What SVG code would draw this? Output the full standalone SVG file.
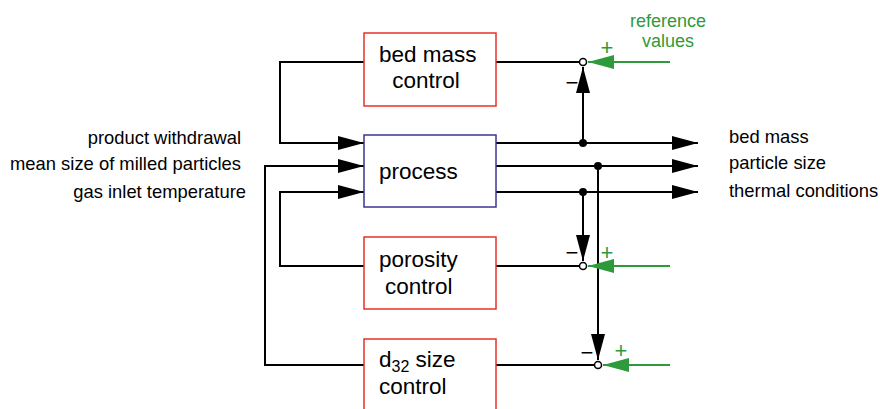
<svg xmlns="http://www.w3.org/2000/svg" width="880" height="409" viewBox="0 0 880 409">
<defs>
<marker id="ah" markerWidth="26" markerHeight="14" refX="26" refY="7" orient="auto" markerUnits="userSpaceOnUse"><path d="M0,0 L26,7 L0,14 Z" fill="#000"/></marker>
<marker id="ag" markerWidth="26" markerHeight="14" refX="26" refY="7" orient="auto" markerUnits="userSpaceOnUse"><path d="M0,0 L26,7 L0,14 Z" fill="#2e9a3c"/></marker>
</defs>
<style>
.t{font-family:"Liberation Sans",Arial,sans-serif;fill:#000}
.s{font-size:18.4px}
.b{font-size:22.5px}
.g{fill:#2e9a3c;font-family:"Liberation Sans",Arial,sans-serif}
.ln{fill:none;stroke:#000;stroke-width:2}
.gl{fill:none;stroke:#2e9a3c;stroke-width:2}
.red{fill:#fff;stroke:#e8302a;stroke-width:1.5}
.blue{fill:#fff;stroke:#3b3596;stroke-width:1.5}
.dot{fill:#000}
.sum{fill:#fff;stroke:#000;stroke-width:1.5}
</style>
<g id="connectors">
<polyline class="ln" points="364,62 280,62 280,143 364,143" marker-end="url(#ah)"/>
<polyline class="ln" points="364,266 280,266 280,192 364,192" marker-end="url(#ah)"/>
<polyline class="ln" points="364,365 265,365 265,166 364,166" marker-end="url(#ah)"/>
<line class="ln" x1="496" y1="143" x2="698" y2="143" marker-end="url(#ah)"/>
<line class="ln" x1="496" y1="166" x2="698" y2="166" marker-end="url(#ah)"/>
<line class="ln" x1="496" y1="192" x2="698" y2="192" marker-end="url(#ah)"/>
<line class="ln" x1="496" y1="62" x2="579" y2="62"/>
<line class="ln" x1="496" y1="266" x2="579" y2="266"/>
<line class="ln" x1="496" y1="365" x2="594" y2="365"/>
<line class="ln" x1="583" y1="143" x2="583" y2="67" marker-end="url(#ah)"/>
<line class="ln" x1="583" y1="192" x2="583" y2="261" marker-end="url(#ah)"/>
<line class="ln" x1="598" y1="166" x2="598" y2="360" marker-end="url(#ah)"/>
<line class="gl" x1="670" y1="62" x2="588" y2="62" marker-end="url(#ag)"/>
<line class="gl" x1="670" y1="266" x2="588" y2="266" marker-end="url(#ag)"/>
<line class="gl" x1="670" y1="365" x2="603" y2="365" marker-end="url(#ag)"/>
<circle class="dot" cx="583" cy="143" r="4"/>
<circle class="dot" cx="598" cy="166" r="4"/>
<circle class="dot" cx="583" cy="192" r="4"/>
</g>
<g id="sum-bed"><circle class="sum" cx="583" cy="62" r="3.5"/><text class="g" x="607" y="55" font-size="22" text-anchor="middle">+</text><text class="t" x="572" y="90" font-size="22" text-anchor="middle">−</text></g>
<g id="sum-por"><circle class="sum" cx="583" cy="266" r="3.5"/><text class="g" x="607" y="260" font-size="22" text-anchor="middle">+</text><text class="t" x="572" y="260" font-size="22" text-anchor="middle">−</text></g>
<g id="sum-d32"><circle class="sum" cx="598" cy="365" r="3.5"/><text class="g" x="621" y="358" font-size="22" text-anchor="middle">+</text><text class="t" x="587" y="360" font-size="22" text-anchor="middle">−</text></g>
<g id="bed-mass-control"><rect class="red" x="364" y="33" width="132" height="73"/><text class="t b" x="379" y="62">bed mass</text><text class="t b" x="426" y="88" text-anchor="middle">control</text></g>
<g id="process"><rect class="blue" x="364" y="135" width="132" height="72"/><text class="t b" x="379" y="179">process</text></g>
<g id="porosity-control"><rect class="red" x="364" y="237" width="132" height="72"/><text class="t b" x="379" y="267">porosity</text><text class="t b" x="385" y="294">control</text></g>
<g id="d32-size-control"><rect class="red" x="364" y="339" width="132" height="74"/><text class="t b" x="379" y="367">d<tspan font-size="16" dy="5">32</tspan><tspan dy="-5"> size</tspan></text><text class="t b" x="379" y="394">control</text></g>
<g id="inputs"><text class="t s" x="241" y="144" text-anchor="end">product withdrawal</text><text class="t s" x="241" y="170" text-anchor="end">mean size of milled particles</text><text class="t s" x="246" y="198" text-anchor="end">gas inlet temperature</text></g>
<g id="outputs"><text class="t s" x="729" y="143">bed mass</text><text class="t s" x="729" y="169">particle size</text><text class="t s" x="729" y="197">thermal conditions</text></g>
<g id="reference"><text class="g" font-size="18" x="668" y="27" text-anchor="middle">reference</text><text class="g" font-size="18" x="668" y="47" text-anchor="middle">values</text></g>
</svg>
